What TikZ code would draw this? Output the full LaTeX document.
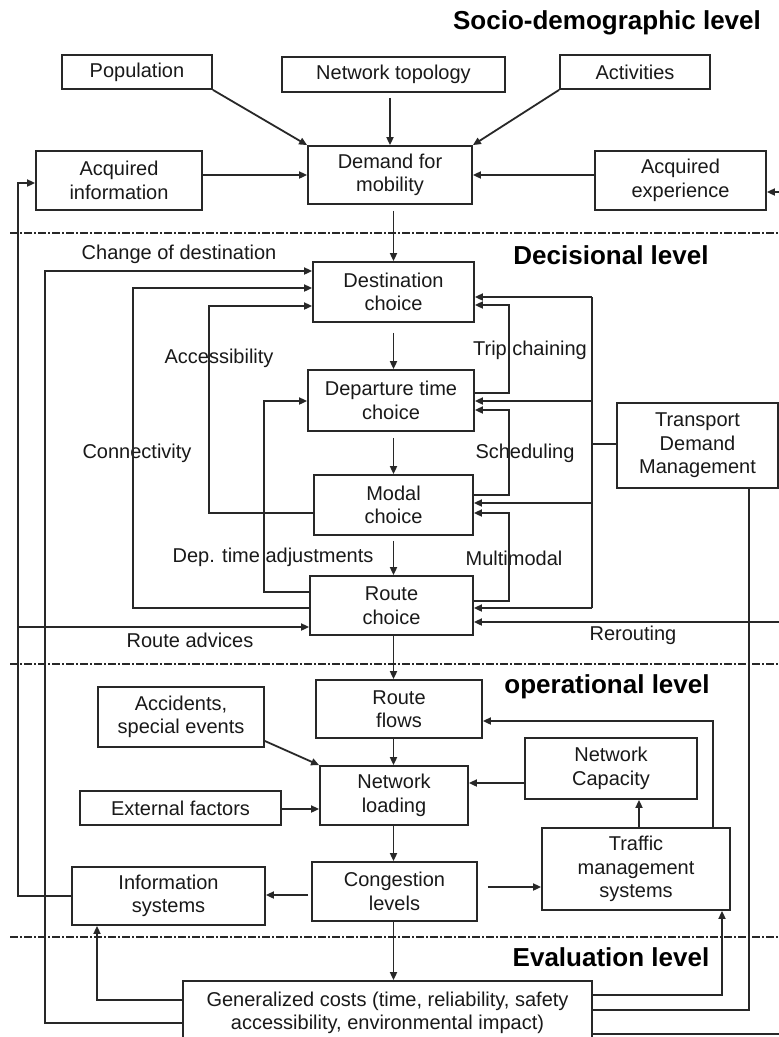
\documentclass[tikz,border=0pt]{standalone}
\usepackage{fontspec}
\setmainfont{Liberation Sans}
\usetikzlibrary{arrows.meta}
\definecolor{ink}{RGB}{40,40,40}
\definecolor{txt}{RGB}{25,25,25}
\begin{document}
\begin{tikzpicture}[x=1pt,y=-1pt,
  box/.style={draw=ink, line width=1.8pt, inner sep=0pt, align=center, text=txt,
              font=\fontsize{20}{23.5}\selectfont},
  lbl/.style={inner sep=0pt, text=txt, font=\fontsize{20}{23.5}\selectfont},
  lvl/.style={inner sep=0pt, text=black, font=\fontsize{26}{29}\selectfont\bfseries},
  wire/.style={draw=ink, line width=1.8pt},
  arr/.style={wire, -{Triangle[length=8pt,width=7pt]}},
  sep/.style={draw=ink, line width=1.3pt, dash pattern=on 8pt off 2pt on 2pt off 2pt}]
\useasboundingbox (0,0) rectangle (779,1037);
\fill[white] (0,0) rectangle (779,1037);

% level headings
\node[lvl] (hsocio) at (607,23) {Socio-demographic level};
\node[lvl] (hdec)   at (611,255) {Decisional level};
\node[lvl] (hop)    at (607,687) {operational level};
\node[lvl] (heval)  at (611,957) {Evaluation level};

% level separators
\draw[sep] (10,233) -- (779,233);
\draw[sep] (10,664) -- (779,664);
\draw[sep] (10,937) -- (779,937);

% socio-demographic level
\node[box, minimum width=150pt, minimum height=34pt] (pop)  at (137,72)   {Population};
\node[box, minimum width=223pt, minimum height=35pt] (topo) at (393.5,74.5) {Network topology};
\node[box, minimum width=150pt, minimum height=34pt] (act)  at (635,72)   {Activities};
\node[box, minimum width=164pt, minimum height=58pt] (demand) at (390,175) {Demand for\\mobility};
\node[box, minimum width=166pt, minimum height=59pt] (acqinfo) at (119,180.5) {Acquired\\information};
\node[box, minimum width=171pt, minimum height=59pt] (acqexp) at (680.5,180.5) {Acquired\\experience};

% decisional level
\node[box, minimum width=161pt, minimum height=60pt] (dest)  at (393.5,292)   {Destination\\choice};
\node[box, minimum width=166pt, minimum height=61pt] (dep)   at (391,400.5)   {Departure time\\choice};
\node[box, minimum width=159pt, minimum height=60pt] (modal) at (393.5,505)   {Modal\\choice};
\node[box, minimum width=163pt, minimum height=59pt] (route) at (391.5,605.5) {Route\\choice};
\node[box, minimum width=161pt, minimum height=85pt] (tdm)   at (697.5,445.5) {Transport\\Demand\\Management};

% operational level
\node[box, minimum width=166pt, minimum height=58pt] (rflows)  at (399,709)   {Route\\flows};
\node[box, minimum width=166pt, minimum height=60pt] (acc)     at (181,717)   {Accidents,\\special events};
\node[box, minimum width=172pt, minimum height=61pt] (netcap)  at (611,768.5) {Network\\Capacity};
\node[box, minimum width=148pt, minimum height=59pt] (netload) at (394,795.5) {Network\\loading};
\node[box, minimum width=201pt, minimum height=34pt] (ext)     at (180.5,808) {External factors};
\node[box, minimum width=188pt, minimum height=82pt] (traffic) at (636,869)   {Traffic\\management\\systems};
\node[box, minimum width=165pt, minimum height=59pt] (cong)    at (394.5,891.5) {Congestion\\levels};
\node[box, minimum width=193pt, minimum height=58pt] (info)    at (168.5,896) {Information\\systems};

% evaluation level
\node[box, minimum width=409pt, minimum height=64pt] (gen) at (387.5,1013)
  {Generalized costs (time, reliability, safety\\accessibility, environmental impact)};

% connector labels
\node[lbl] (lchg)  at (179,254) {Change of destination};
\node[lbl] (lacc)  at (219,358) {Accessibility};
\node[lbl] (ltrip) at (530,350) {Trip chaining};
\node[lbl] (lconn) at (137,453) {Connectivity};
\node[lbl] (lsch)  at (525,453) {Scheduling};
\node[lbl] (ldep)  at (273,557) {Dep. time adjustments};
\node[lbl] (lmm)   at (514,558) {Multimodal};
\node[lbl] (ladv)  at (190,640) {Route advices};
\node[lbl] (lrer)  at (633,635) {Rerouting};

% inputs to the demand for mobility
\draw[arr] (pop.south east) -- (demand.north west);
\draw[arr, shorten <=5pt] (topo.south -| demand.north) -- (demand.north);
\draw[arr] (act.south west) -- (demand.north east);
\draw[arr] (acqinfo.east |- demand.west) -- (demand.west);
\draw[arr] (acqexp.west |- demand.east) -- (demand.east);

% main chain
\draw[arr, shorten <=6pt] (dest.north |- demand.south) -- (dest.north);
\draw[arr, shorten <=10pt] (dest.south) -- (dest.south |- dep.north);
\draw[arr, shorten <=6pt] (dest.south |- dep.south) -- (dest.south |- modal.north);
\draw[arr, shorten <=5pt] (dest.south |- modal.south) -- (dest.south |- route.north);
\draw[arr] (dest.south |- route.south) -- (dest.south |- rflows.north);
\draw[arr] (dest.south |- rflows.south) -- (dest.south |- netload.north);
\draw[arr] (dest.south |- netload.south) -- (dest.south |- cong.north);
\draw[arr] (dest.south |- cong.south) -- (dest.south |- gen.north);

% left-hand feedback loops into the decisional level
\draw[arr] (gen.west |- 0,1023) -- (45,1023) -- (45,271) -- (dest.west |- 0,271);
\draw[arr] (route.west |- 0,608) -- (133,608) -- (133,288) -- (dest.west |- 0,288);
\draw[arr] (modal.west |- 0,513) -- (209,513) -- (209,306) -- (dest.west |- 0,306);
\draw[arr] (route.west |- 0,592) -- (264,592) -- (264,401) -- (dep.west |- 0,401);

% information systems feed back
\draw[arr] (info.west) -- (18,896) -- (18,183) -- (acqinfo.west |- 0,183);
\draw[arr] (18,627) -- (route.west |- 0,627);

% right-hand loops between choices
\draw[arr] (dep.east |- 0,393) -- (509,393) -- (509,305) -- (dest.east |- 0,305);
\draw[arr] (modal.east |- 0,495) -- (509,495) -- (509,410) -- (dep.east |- 0,410);
\draw[arr] (route.east |- 0,601) -- (509,601) -- (509,513) -- (modal.east |- 0,513);

% transport demand management bus
\coordinate (busT) at (592,297);
\coordinate (busB) at (592,608);
\draw[wire] (tdm.west |- 0,444) -- (592,444);
\draw[wire] (busT) -- (busB);
\draw[arr] (busT) -- (dest.east |- busT);
\draw[arr] (592,401) -- (dep.east |- 0,401);
\draw[arr] (592,503) -- (modal.east |- 0,503);
\draw[arr] (busB) -- (route.east |- busB);

% right edge return line
\coordinate (redgeB) at (786,1034);
\coordinate (redgeT) at (786,192);
\draw[wire] (gen.east |- redgeB) -- (redgeB) -- (redgeT);
\draw[arr] (redgeT) -- (acqexp.east |- redgeT);
\draw[arr] (786,622) -- (route.east |- 0,622);

% operational level connectors
\draw[arr] (acc.east |- 0,741) -- (netload.north west);
\draw[arr] (netcap.west |- 0,783) -- (netload.east |- 0,783);
\draw[arr] (ext.east |- 0,809) -- (netload.west |- 0,809);
\draw[arr] (traffic.north -| 639,0) -- (netcap.south -| 639,0);
\draw[arr] (traffic.north -| 713,0) -- (713,721) -- (rflows.east |- 0,721);
\draw[arr, shorten <=3pt] (cong.west |- 0,895) -- (info.east |- 0,895);
\draw[arr, shorten <=10pt] (cong.east |- 0,887) -- (traffic.west |- 0,887);

% evaluation feedback
\draw[arr] (gen.west |- 0,1000) -- (97,1000) -- (info.south -| 97,0);
\draw[arr] (gen.east |- 0,995) -- (722,995) -- (traffic.south -| 722,0);
\draw[wire] (gen.east |- 0,1010) -- (749,1010) -- (tdm.south -| 749,0);
\end{tikzpicture}
\end{document}
